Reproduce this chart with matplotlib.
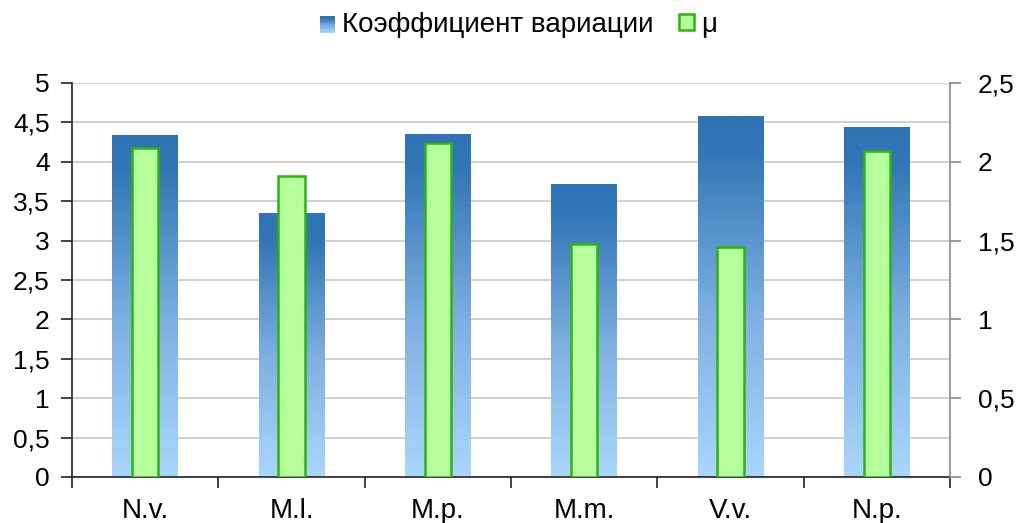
import numpy as np
import matplotlib.pyplot as plt
from matplotlib.colors import LinearSegmentedColormap
from matplotlib.patches import Patch
from matplotlib.legend_handler import HandlerPatch
from matplotlib.ticker import FixedLocator, FuncFormatter

plt.rcParams['font.family'] = ['Liberation Sans', 'DejaVu Sans']

# Данные
species = ['N.v.', 'M.l.', 'M.p.', 'M.m.', 'V.v.', 'N.p.']
cv = [4.33, 3.35, 4.35, 3.71, 4.57, 4.44]     # коэффициент вариации (левая ось)
mu = [2.09, 1.91, 2.12, 1.48, 1.46, 2.07]     # μ (правая ось)

grad = LinearSegmentedColormap.from_list(
    'blue_grad', [(0.0, '#A8D6FC'), (0.45, '#7FB0E2'), (0.9, '#3176B6'), (1.0, '#2E73B4')])
green_face = '#B5FF9C'
green_edge = '#2EB30F'
fs = 19

fig = plt.figure(figsize=(10.17, 5.23), dpi=100)
ax = fig.add_axes([72 / 1017, 1 - 477 / 523, (950 - 72) / 1017, (477 - 83) / 523])
ax2 = ax.twinx()

x = np.arange(len(species))
wb = 0.45
wg = 0.18

# столбцы с вертикальным градиентом
g = np.linspace(0, 1, 256).reshape(-1, 1)
for xi, v in zip(x, cv):
    ax.imshow(g, cmap=grad, origin='lower', aspect='auto',
              extent=[xi - wb / 2, xi + wb / 2, 0, v], zorder=2, interpolation='bilinear')

ax2.bar(x, mu, width=wg, color=green_face, edgecolor=green_edge, linewidth=1.8, zorder=3)

ax.set_xlim(-0.5, len(species) - 0.5)
ax.set_ylim(0, 5)
ax2.set_ylim(0, 2.5)

comma = FuncFormatter(lambda v, p: ('%g' % v).replace('.', ','))
ax.yaxis.set_major_locator(FixedLocator(np.arange(0, 5.01, 0.5)))
ax.yaxis.set_major_formatter(comma)
ax2.yaxis.set_major_locator(FixedLocator(np.arange(0, 2.51, 0.5)))
ax2.yaxis.set_major_formatter(comma)

ax.set_xticks(x)
ax.set_xticklabels(species)
ax.set_xticks(np.arange(-0.5, len(species)), minor=True)
ax.tick_params(axis='x', which='major', length=0, pad=15, labelsize=20)
ax.tick_params(axis='x', which='minor', length=8, width=1.2, direction='out', color='#222222')
ax.tick_params(axis='y', length=8, width=1.2, labelsize=fs, pad=8, color='#222222')
ax2.tick_params(axis='y', length=8, width=1.2, labelsize=fs, pad=12, color='#888888')

ax.grid(axis='y', color='#C8C8C8', linewidth=1.2, zorder=0)
ax.set_axisbelow(True)

ax.spines['top'].set_visible(False)
ax2.spines['top'].set_visible(False)
ax.spines['right'].set_visible(False)
ax2.spines['left'].set_visible(False)
ax2.spines['bottom'].set_visible(False)
ax.spines['left'].set_color('#222222')
ax.spines['left'].set_linewidth(1.2)
ax.spines['bottom'].set_color('#222222')
ax.spines['bottom'].set_linewidth(1.2)
ax2.spines['right'].set_color('#888888')
ax2.spines['right'].set_linewidth(1.2)


class GradHandler(HandlerPatch):
    def create_artists(self, legend, orig_handle, xdescent, ydescent, width, height, fontsize, trans):
        arts = []
        n = 20
        for i in range(n):
            p = plt.Rectangle((xdescent, ydescent + height * i / n), width, height / n + 0.3,
                              facecolor=grad(i / (n - 1)), edgecolor='none', transform=trans)
            arts.append(p)
        return arts


h1 = Patch(label='Коэффициент вариации')
h2 = Patch(facecolor=green_face, edgecolor=green_edge, linewidth=1.8, label='μ')
fig.legend(handles=[h1, h2], loc='upper center', bbox_to_anchor=(0.51, 1.025), ncol=2,
           frameon=False, fontsize=20, handlelength=0.55, handleheight=0.55,
           handletextpad=0.25, columnspacing=0.9,
           handler_map={h1: GradHandler()})

fig.savefig('out.png', dpi=100)
